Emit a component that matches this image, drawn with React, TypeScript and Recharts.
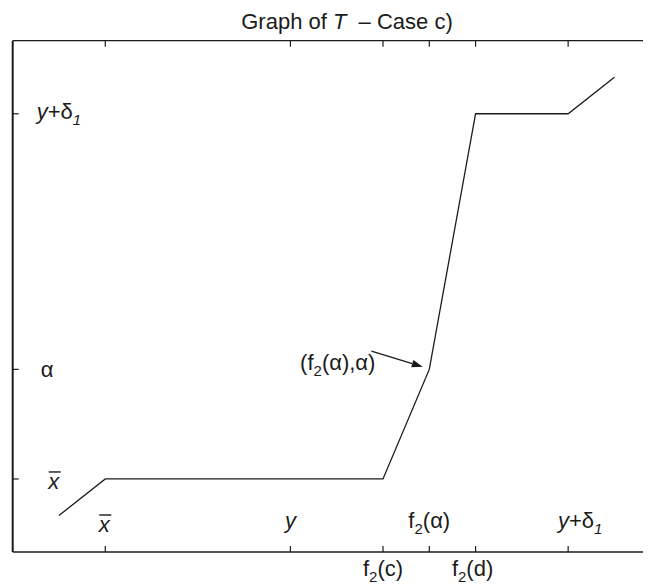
import { LineChart, Line, XAxis, YAxis, ReferenceLine } from 'recharts'

// piecewise graph of T (grid units)
const X_VALUES = [1, 2, 8, 9, 10, 12, 13]
const T_VALUES = [1, 2, 2, 5, 12, 12, 13]

// tick positions: x̄, y, f2(c), f2(α), f2(d), y+δ1
const X_TICKS = [2, 6, 8, 9, 10, 12]
const X_TICKS_BELOW = [8, 10]
// tick positions: x̄, α, y+δ1
const Y_TICKS = [2, 5, 12]
// the figure is cropped on the right, before the box's right edge at 14
const X_DOMAIN = [0, 13.79]
const Y_DOMAIN = [0, 14]

// arrow pointing at (f2(α), α)
const ARROW_FROM = { x: 7.75, y: 5.5 }
const ARROW_TO = { x: 8.86, y: 5.07 }

const data = X_VALUES.map((x, i) => ({ x, t: T_VALUES[i] }))

const FONT = '"Liberation Sans", Arial, Helvetica, sans-serif'
const INK = '#1b1b1b'
const FS = 22
const SUB = 15

const sub = (s: string, italic = false) => (
  <>
    <tspan dy={6} fontSize={SUB} fontStyle={italic ? 'italic' : 'normal'}>{s}</tspan>
    <tspan dy={-6}>{'\u200b'}</tspan>
  </>
)

function XBar({ x, y }: { x: number; y: number }) {
  // italic x with an overbar, x = glyph centre, y = baseline
  return (
    <g>
      <line x1={x - 5} x2={x + 7} y1={y - 17} y2={y - 17} stroke={INK} strokeWidth={1.4} />
      <text x={x} y={y} textAnchor="middle" fontFamily={FONT} fontSize={FS} fontStyle="italic" fill={INK}>x</text>
    </g>
  )
}

function xLabel(v: number) {
  switch (v) {
    case 6:
      return <tspan fontStyle="italic">y</tspan>
    case 8:
      return <>f{sub('2')}(c)</>
    case 9:
      return <>f{sub('2')}(α)</>
    case 10:
      return <>f{sub('2')}(d)</>
    case 12:
      return <><tspan fontStyle="italic">y</tspan>+δ{sub('1', true)}</>
    default:
      return null
  }
}

const X_LABEL_DX: Record<number, number> = { 10: -3, 12: 12 }

function BottomTick(props: any) {
  const { x, y, payload } = props
  const v = payload.value as number
  const below = X_TICKS_BELOW.includes(v)
  return (
    <g>
      <line x1={x} x2={x} y1={y} y2={y - 6} stroke={INK} strokeWidth={1.2} />
      {v === 2 ? (
        <XBar x={x - 1} y={y - 20} />
      ) : (
        <text
          x={x + (X_LABEL_DX[v] ?? 0)}
          y={below ? y + 24 : y - 24}
          textAnchor="middle"
          fontFamily={FONT}
          fontSize={FS}
          fill={INK}
        >
          {xLabel(v)}
        </text>
      )}
    </g>
  )
}

function TopTick(props: any) {
  const { x, y } = props
  return <line x1={x} x2={x} y1={y} y2={y + 6} stroke={INK} strokeWidth={1.2} />
}

function LeftTick(props: any) {
  const { x, y, payload } = props
  const v = payload.value as number
  let label = null
  if (v === 2) label = <XBar x={x + 41} y={y + 10} />
  else if (v === 5)
    label = (
      <text x={x + 28} y={y + 8} fontFamily={FONT} fontSize={FS} fill={INK}>α</text>
    )
  else
    label = (
      <text x={x + 24} y={y + 5} fontFamily={FONT} fontSize={FS} fill={INK}>
        <tspan fontStyle="italic">y</tspan>+δ{sub('1', true)}
      </text>
    )
  return (
    <g>
      <line x1={x} x2={x + 6} y1={y} y2={y} stroke={INK} strokeWidth={1.2} />
      {label}
    </g>
  )
}

function Arrow(props: any) {
  const { x1, y1, x2, y2 } = props
  const ang = Math.atan2(y2 - y1, x2 - x1)
  const len = 11
  const hw = 3.8
  const bx = x2 - len * Math.cos(ang)
  const by = y2 - len * Math.sin(ang)
  const px = -Math.sin(ang) * hw
  const py = Math.cos(ang) * hw
  return (
    <g>
      <line x1={x1} y1={y1} x2={bx} y2={by} stroke={INK} strokeWidth={1.3} />
      <polygon points={`${x2},${y2} ${bx + px},${by + py} ${bx - px},${by - py}`} fill={INK} />
      <text x={x1 + 4} y={y1 + 19} textAnchor="end" fontFamily={FONT} fontSize={FS} fill={INK}>
        (f{sub('2')}(α),α)
      </text>
    </g>
  )
}

export default function App() {
  return (
    <div style={{ position: 'relative', width: 643, height: 576, overflow: 'hidden', background: '#fff' }}>
      <style>{'html, body { overflow: hidden; }'}</style>
      <div
        style={{
          position: 'absolute',
          left: 0,
          top: 3,
          width: 678,
          textAlign: 'center',
          fontFamily: FONT,
          fontSize: FS,
          lineHeight: '22px',
          color: INK,
          whiteSpace: 'pre',
        }}
      >
        Graph of <i>T</i>  – Case c)
      </div>
      <LineChart
        width={643}
        height={576}
        data={data}
        margin={{ top: 31.7, right: 0, bottom: 31, left: 3.7 }}
      >
        <XAxis
          dataKey="x"
          type="number"
          domain={X_DOMAIN}
          allowDataOverflow
          ticks={X_TICKS}
          interval={0}
          height={1}
          tickSize={0}
          tickMargin={0}
          tickLine={false}
          axisLine={{ stroke: INK, strokeWidth: 1.6 }}
          tick={<BottomTick />}
        />
        <XAxis
          xAxisId="top"
          orientation="top"
          dataKey="x"
          type="number"
          domain={X_DOMAIN}
          allowDataOverflow
          ticks={X_TICKS}
          interval={0}
          height={1}
          tickSize={0}
          tickMargin={0}
          tickLine={false}
          axisLine={{ stroke: INK, strokeWidth: 1.3 }}
          tick={<TopTick />}
        />
        <YAxis
          type="number"
          domain={Y_DOMAIN}
          ticks={Y_TICKS}
          interval={0}
          width={1}
          tickSize={0}
          tickMargin={0}
          tickLine={false}
          axisLine={{ stroke: INK, strokeWidth: 2 }}
          tick={<LeftTick />}
        />
        <ReferenceLine segment={[ARROW_FROM, ARROW_TO]} shape={<Arrow />} ifOverflow="visible" />
        <Line
          type="linear"
          dataKey="t"
          stroke={INK}
          strokeWidth={1.3}
          dot={false}
          isAnimationActive={false}
        />
      </LineChart>
    </div>
  )
}
